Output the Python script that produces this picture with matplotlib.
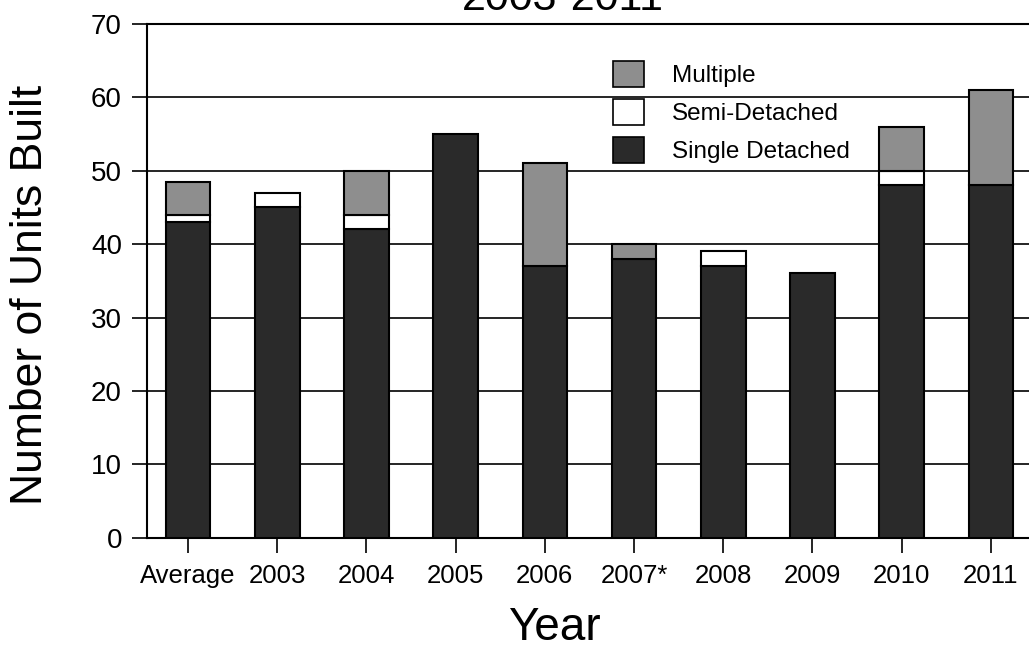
import matplotlib
matplotlib.use('Agg')
import numpy as np
from matplotlib import pyplot as plt
import matplotlib.patches as mpatches

plt.rcParams['font.family'] = ['Liberation Sans', 'DejaVu Sans']

# units built per year, split by dwelling type
years = ['Average', '2003', '2004', '2005', '2006', '2007*', '2008', '2009', '2010', '2011']
single = [43, 45, 42, 55, 37, 38, 37, 36, 48, 48]
semi = [1, 2, 2, 0, 0, 0, 2, 0, 2, 0]
multiple = [4.5, 0, 6, 0, 14, 2, 0, 0, 6, 13]

c_single = '#2a2a2a'
c_semi = '#ffffff'
c_multi = '#8e8e8e'

W, H = 1029, 648
fig = plt.figure(figsize=(W / 100, H / 100), dpi=100)
ax = fig.add_axes([147 / W, 1 - 537.7 / H, (W - 147) / W, (537.7 - 23.9) / H])

x = np.arange(len(years))
single = np.array(single, dtype=float)
semi = np.array(semi, dtype=float)
multiple = np.array(multiple, dtype=float)

bw = 0.5
ax.bar(x, single, bw, color=c_single, edgecolor='black', linewidth=1.5, zorder=3)
m = semi > 0
ax.bar(x[m], semi[m], bw, bottom=single[m], color=c_semi, edgecolor='black', linewidth=1.5, zorder=3)
m = multiple > 0
ax.bar(x[m], multiple[m], bw, bottom=(single + semi)[m], color=c_multi, edgecolor='black', linewidth=1.5, zorder=3)

ax.set_xlim(-41 / 89.2, (W - 188) / 89.2)
ax.set_ylim(0, 70)
ax.set_yticks(np.arange(0, 71, 10))
ax.set_xticks(x)
ax.set_xticklabels(years)
ax.yaxis.grid(True, color='black', linewidth=1.2, zorder=0)
ax.set_axisbelow(True)
ax.spines['right'].set_visible(False)
for s in ['left', 'top', 'bottom']:
    ax.spines[s].set_linewidth(1.5)
ax.tick_params(axis='y', direction='out', length=11, width=1.2, pad=7, labelsize=20)
ax.tick_params(axis='x', direction='out', length=11, width=1.2, pad=8, labelsize=18.5)

fig.text(31 / W, 1 - 295 / H, 'Number of Units Built', rotation=90,
         ha='center', va='center', fontsize=32)
fig.text(554 / W, 1 - 628 / H, 'Year', ha='center', va='center', fontsize=33)
fig.text(563 / W, 1 - 10 / H, '2003-2011', ha='center', va='baseline', fontsize=31)

handles = [
    mpatches.Patch(facecolor=c_multi, edgecolor='black', linewidth=1.2, label='Multiple'),
    mpatches.Patch(facecolor=c_semi, edgecolor='black', linewidth=1.2, label='Semi-Detached'),
    mpatches.Patch(facecolor=c_single, edgecolor='black', linewidth=1.2, label='Single Detached'),
]
ax.legend(handles=handles, loc='upper left', bbox_to_anchor=(613 / W, 1 - 61 / H),
          bbox_transform=fig.transFigure, frameon=False, fontsize=17.5,
          handlelength=1.28, handleheight=1.3, handletextpad=1.15,
          labelspacing=0.47, borderpad=0, borderaxespad=0)

fig.savefig('out.png', dpi=100)
